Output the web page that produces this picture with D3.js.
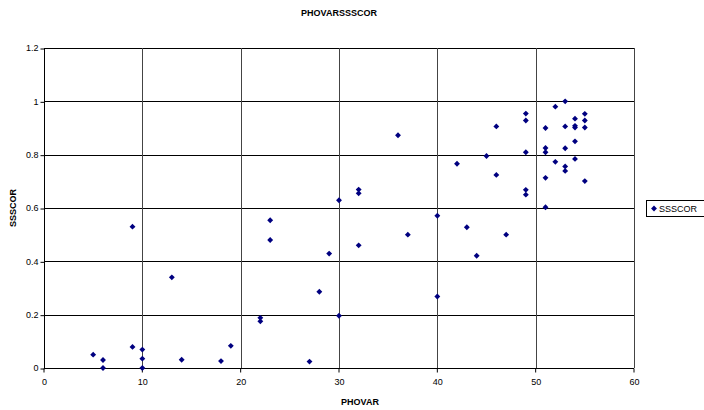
<!DOCTYPE html>
<html>
<head>
<meta charset="utf-8">
<script src="https://cdn.jsdelivr.net/npm/d3@7"></script>
<style>
  body { margin: 0; background: #fff; }
  text { font-family: "Liberation Sans", Arial, sans-serif; }
</style>
</head>
<body>
<div id="chart"></div>
<script>
// PHOVAR vs SSSCOR scatter

var phovar = [5, 6, 6, 9, 9, 10, 10, 10, 13, 14, 18, 19, 22, 22, 23, 23,
              27, 28, 29, 30, 30, 32, 32, 32, 36, 37, 40, 40, 42, 43, 44, 45,
              46, 46, 47, 49, 49, 49, 49, 49, 51, 51, 51, 51, 51, 52, 52,
              53, 53, 53, 53, 53, 54, 54, 54, 54, 54, 55, 55, 55, 55];
var ssscor = [0.05, 0.03, 0, 0.53, 0.079, 0.069, 0.035, 0, 0.34, 0.031, 0.026, 0.083, 0.188, 0.175, 0.554, 0.48,
              0.024, 0.286, 0.429, 0.629, 0.196, 0.669, 0.655, 0.46, 0.873, 0.50, 0.571, 0.268, 0.766, 0.528, 0.421, 0.795,
              0.906, 0.724, 0.50, 0.954, 0.928, 0.809, 0.668, 0.65, 0.90, 0.825, 0.809, 0.713, 0.603, 0.98, 0.773,
              1.0, 0.906, 0.824, 0.756, 0.739, 0.935, 0.908, 0.902, 0.85, 0.784, 0.953, 0.928, 0.902, 0.701];
var xTicks = [0, 10, 20, 30, 40, 50, 60];
var yTicks = [0, 0.2, 0.4, 0.6, 0.8, 1, 1.2];

var width = 704, height = 410;
var plot = {left: 44, right: 634, top: 48, bottom: 368};

var svg = d3.select("#chart").append("svg")
  .attr("width", width)
  .attr("height", height);

var x = d3.scaleLinear().domain([0, 60]).range([plot.left, plot.right]);
var y = d3.scaleLinear().domain([0, 1.2]).range([plot.bottom, plot.top]);

// gridlines
svg.append("g").selectAll("line")
  .data(yTicks)
  .enter().append("line")
    .attr("x1", plot.left).attr("x2", plot.right)
    .attr("y1", function(d) { return Math.round(y(d)) + 0.5; })
    .attr("y2", function(d) { return Math.round(y(d)) + 0.5; })
    .attr("stroke", "#000");
svg.append("g").selectAll("line")
  .data(xTicks)
  .enter().append("line")
    .attr("y1", plot.top).attr("y2", plot.bottom)
    .attr("x1", function(d) { return Math.round(x(d)) + 0.5; })
    .attr("x2", function(d) { return Math.round(x(d)) + 0.5; })
    .attr("stroke", function(d) { return d == 0 ? "#000" : "#444"; });

// axes
var xAxis = svg.append("g")
  .attr("transform", "translate(0," + (plot.bottom + 0.5) + ")")
  .call(d3.axisBottom(x).tickValues(xTicks).tickSize(4).tickPadding(6).tickFormat(d3.format("d")));
var yAxis = svg.append("g")
  .attr("transform", "translate(" + (plot.left + 0.5) + ",0)")
  .call(d3.axisLeft(y).tickValues(yTicks).tickSize(4).tickPadding(2).tickFormat(function(d) { return d == 0 ? "0" : d3.format("")(d); }));
[xAxis, yAxis].forEach(function(a) {
  a.selectAll("text").attr("font-size", "9px").attr("fill", "#000")
    .style("font-family", "'Liberation Sans', Arial, sans-serif");
  a.selectAll("line").attr("stroke", "#000");
  a.select(".domain").remove();
});
xAxis.selectAll(".tick line").attr("transform", "translate(-0.5,0)");
yAxis.selectAll(".tick line").attr("transform", "translate(0,0.5)");

// points
var diamond = d3.symbol().type(d3.symbolDiamond2).size(22);
svg.append("g").selectAll("path")
  .data(phovar)
  .enter().append("path")
    .attr("d", diamond)
    .attr("transform", function(d, i) {
      return "translate(" + x(d) + "," + y(ssscor[i]) + ")";
    })
    .attr("fill", "#000080");

// title and axis labels
svg.append("text")
  .attr("x", 339).attr("y", 16)
  .attr("text-anchor", "middle")
  .attr("font-size", "9px").attr("font-weight", "bold")
  .text("PHOVARSSSCOR");
svg.append("text")
  .attr("x", 360).attr("y", 405)
  .attr("text-anchor", "middle")
  .attr("font-size", "9px").attr("font-weight", "bold")
  .text("PHOVAR");
svg.append("text")
  .attr("transform", "translate(16,208) rotate(-90)")
  .attr("text-anchor", "middle")
  .attr("font-size", "9px").attr("font-weight", "bold")
  .text("SSSCOR");

// legend
var lg = svg.append("g").attr("transform", "translate(646,200)");
lg.append("rect")
  .attr("x", 0.5).attr("y", 0.5)
  .attr("width", 58).attr("height", 16)
  .attr("fill", "#fff").attr("stroke", "#000");
lg.append("path")
  .attr("d", diamond)
  .attr("transform", "translate(8,8.5)")
  .attr("fill", "#000080");
lg.append("text")
  .attr("x", 13).attr("y", 12)
  .attr("font-size", "9px")
  .text("SSSCOR");
</script>
</body>
</html>
